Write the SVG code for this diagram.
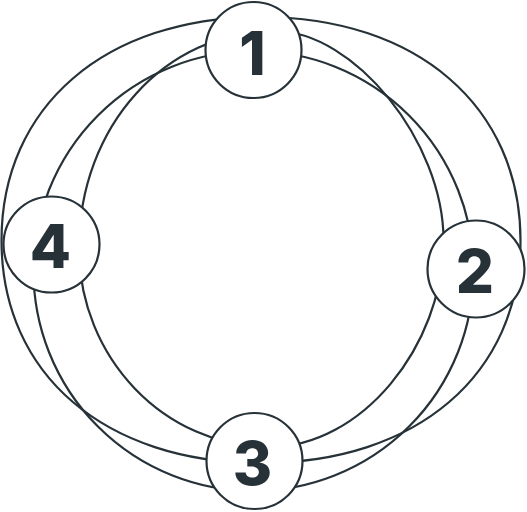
<svg xmlns="http://www.w3.org/2000/svg" width="527" height="512" viewBox="0 0 527 512">
<style>
.ring{fill:none;stroke:#263238;stroke-width:2.2}
.node circle{fill:#ffffff;stroke:#263238;stroke-width:2.2}
.node text{font-family:Inter,"Open Sans","DejaVu Sans",sans-serif;font-weight:800;font-size:60px;fill:#263238;text-anchor:middle}
</style>
<rect width="527" height="512" fill="#ffffff"/>
<g id="connectors">
<path id="ring-outer" class="ring" d="M 1.5,240.5 C 1.5,106.4 105.3,17 261,17 C 416.7,17 520.5,106.4 520.5,240.5 C 520.5,374.6 416.7,463 261,463 C 105.3,463 1.5,374.6 1.5,240.5 Z"/>
<circle id="ring-middle" class="ring" cx="253.5" cy="271" r="220"/>
<path id="ring-inner" class="ring" d="M 79,248 C 79,126.5 165.2,31 275,31 C 354.2,31 443.5,141.8 443.5,240 C 443.5,347.6 360.2,447 270,447 C 164.5,447 79,357.9 79,248 Z"/>
</g>
<g id="node-1" class="node"><circle cx="253.5" cy="50" r="48"/><text x="252.5" y="75">1</text></g>
<g id="node-2" class="node"><circle cx="476" cy="269" r="48.5"/><text x="475" y="293">2</text></g>
<g id="node-3" class="node"><circle cx="254.5" cy="461" r="48"/><text x="252.5" y="485">3</text></g>
<g id="node-4" class="node"><circle cx="51.5" cy="244.5" r="48"/><text x="50.5" y="268">4</text></g>
</svg>
